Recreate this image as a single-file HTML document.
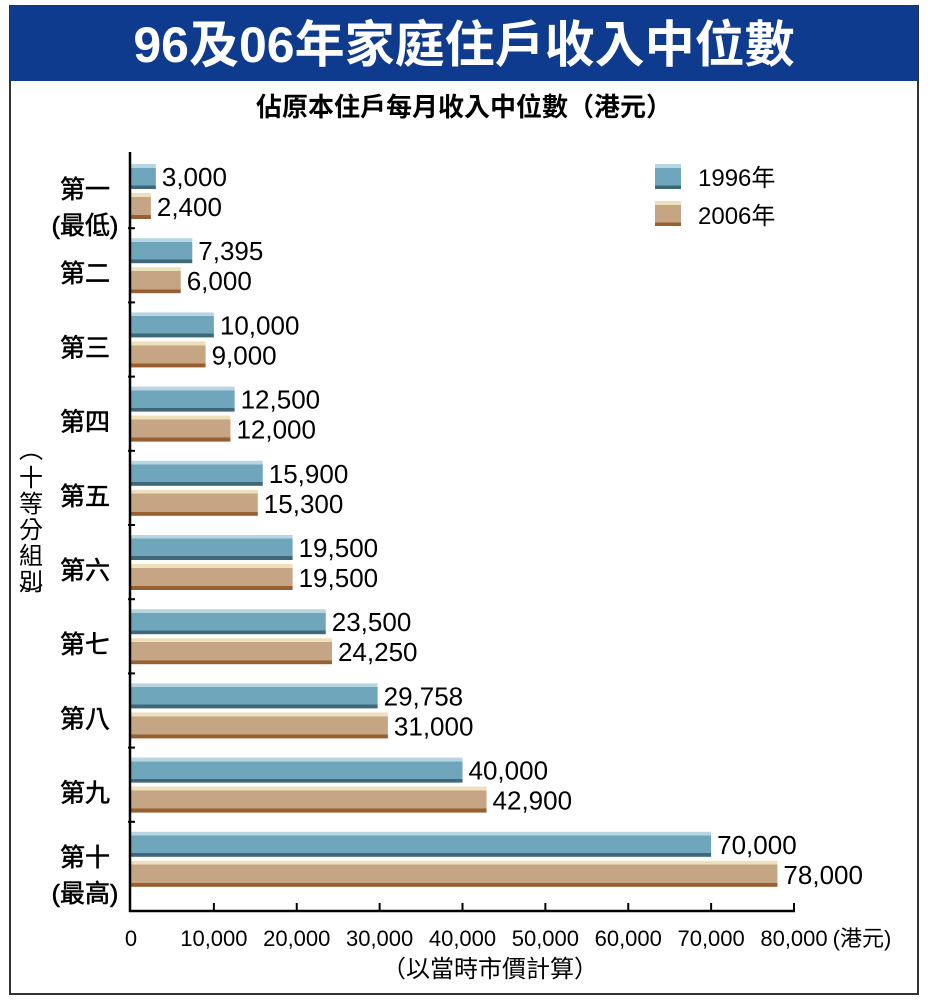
<!DOCTYPE html>
<html><head><meta charset="utf-8"><style>
body{margin:0;width:928px;height:1002px;background:#fff;overflow:hidden}
svg text{font-family:"Liberation Sans","Noto Sans CJK TC",sans-serif}
</style></head><body>
<svg width="928" height="1002" xmlns="http://www.w3.org/2000/svg" id="chart">
<defs>
<linearGradient id="gb" x1="0" y1="0" x2="0" y2="1"><stop offset="0" stop-color="#b8d6e2"/><stop offset="0.15" stop-color="#b8d6e2"/><stop offset="0.15" stop-color="#6fa6bc"/><stop offset="0.85" stop-color="#6fa6bc"/><stop offset="0.85" stop-color="#3e6877"/><stop offset="1" stop-color="#3e6877"/></linearGradient>
<linearGradient id="gt" x1="0" y1="0" x2="0" y2="1"><stop offset="0" stop-color="#ece0bd"/><stop offset="0.15" stop-color="#ece0bd"/><stop offset="0.15" stop-color="#c6a585"/><stop offset="0.85" stop-color="#c6a585"/><stop offset="0.85" stop-color="#985f30"/><stop offset="1" stop-color="#985f30"/></linearGradient>
</defs>
<rect x="10" y="6" width="908" height="988" fill="#fff" stroke="#333" stroke-width="2"/>
<rect x="10" y="6" width="908" height="75" fill="#0e3b8e"/>
<text x="464" y="62" text-anchor="middle" fill="#fff" font-size="50" font-weight="bold">96及06年家庭住戶收入中位數</text>
<text x="464" y="116" text-anchor="middle" fill="#000" font-size="26" font-weight="bold">佔原本住戶每月收入中位數（港元）</text>
<g id="plot"></g>
<text x="490" y="977" text-anchor="middle" font-size="24">（以當時市價計算）</text>
<text x="862" y="946" text-anchor="middle" font-size="22">(港元)</text>
<g font-size="24">
<text x="31" y="458" text-anchor="middle">︵</text>
<text x="31" y="486" text-anchor="middle">十</text>
<text x="31" y="512" text-anchor="middle">等</text>
<text x="31" y="538" text-anchor="middle">分</text>
<text x="31" y="564" text-anchor="middle">組</text>
<text x="31" y="590" text-anchor="middle">別</text>
<text x="31" y="604" text-anchor="middle">︶</text>
</g>
<g>
<rect x="655" y="164" width="26" height="25" fill="url(#gb)"/>
<text x="698" y="186" font-size="24">1996年</text>
<rect x="655" y="201" width="26" height="25" fill="url(#gt)"/>
<text x="698" y="224" font-size="24">2006年</text>
</g>
</svg>
<script>
const categories=["第一","第二","第三","第四","第五","第六","第七","第八","第九","第十"];
const sub=["(最低)","","","","","","","","","(最高)"];
const v1996=[3000,7395,10000,12500,15900,19500,23500,29758,40000,70000];
const v2006=[2400,6000,9000,12000,15300,19500,24250,31000,42900,78000];
const xTicks=[0,10000,20000,30000,40000,50000,60000,70000,80000];
const NS="http://www.w3.org/2000/svg";
const g=document.getElementById('plot');
const x0=131,x1=794,xMax=80000,top0=164,pitch=74.2,axisY=911;
const xs=v=>x0+(v/xMax)*(x1-x0);
const fmt=v=>v.toLocaleString('en-US');
function mk(t,a){const e=document.createElementNS(NS,t);for(const k in a)e.setAttribute(k,a[k]);g.appendChild(e);return e;}
categories.forEach((c,i)=>{
  const y=top0+i*pitch;
  let r=mk('rect',{x:x0,y:y,width:xs(v1996[i])-x0,height:25,fill:'url(#gb)'});
  
  
  r=mk('rect',{x:x0,y:y+29,width:xs(v2006[i])-x0,height:26,fill:'url(#gt)'});
  
  
  let t=mk('text',{x:xs(v1996[i])+6,y:y+22,'font-size':26});t.textContent=fmt(v1996[i]);
  
  
  t=mk('text',{x:xs(v2006[i])+6,y:y+52,'font-size':26});t.textContent=fmt(v2006[i]);
  
  
  const cy=sub[i]?y+34:y+44;
  t=mk('text',{x:85,y:cy,'font-size':25,'text-anchor':'middle','stroke':'#000','stroke-width':0.6});t.textContent=c;
  
  
  if(sub[i]){t=mk('text',{x:85,y:cy+36,'font-size':25,'text-anchor':'middle','stroke':'#000','stroke-width':0.6});t.textContent=sub[i];
  
  }
  if(i>0){const ty=y-10;let l=mk('line',{x1:x0-3,x2:x0+4,y1:ty,y2:ty,stroke:'#000','stroke-width':2});
  
  }
});
let ax=mk('line',{x1:x0-1,x2:x0-1,y1:152,y2:axisY+1,stroke:'#000','stroke-width':2.5});


ax=mk('line',{x1:x0-2,x2:x1+1,y1:axisY,y2:axisY,stroke:'#000','stroke-width':2.5});


xTicks.forEach((v,i)=>{
  if(i>0){const l=mk('line',{x1:xs(v),x2:xs(v),y1:axisY-8,y2:axisY,stroke:'#000','stroke-width':2});
  
  }
  const t=mk('text',{x:i==0?x0:xs(v),y:946,'font-size':22,'text-anchor':'middle'});t.textContent=fmt(v);
  
  
});
</script>
</body></html>
